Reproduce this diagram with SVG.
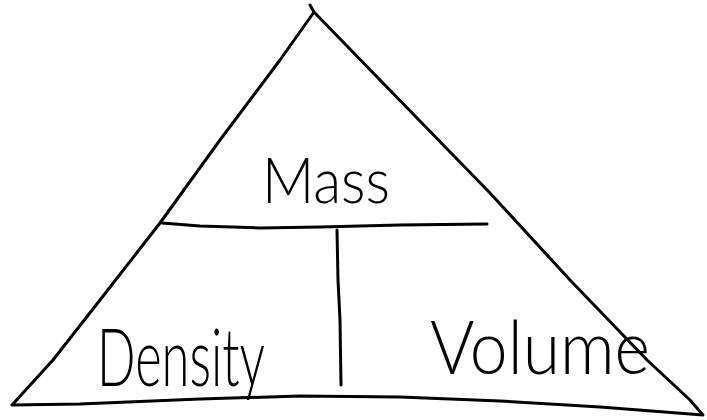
<svg xmlns="http://www.w3.org/2000/svg" width="707" height="420" viewBox="0 0 707 420">
<style>
.ln{fill:none;stroke:#000;stroke-width:3;stroke-linecap:round;stroke-linejoin:round}
.t{font-family:Lato,"Liberation Sans",Arial,sans-serif;fill:#000;font-weight:300}
</style>
<rect width="707" height="420" fill="#fff"/>
<g id="connectors">
<path class="ln" d="M310,5 L314,12 L280,60 L220,140 L160,223 L100,300 L53,360 L12,405 L80,404 L200,399 L300,396 L400,397 L500,401 L600,407 L703,415 L690,400 L647,360 L570,280 L490,193 L380,80 L314,12"/>
<path class="ln" d="M162,223 L200,226 L260,228 L320,227 L400,225 L487,224"/>
<path class="ln" d="M337,230 L338,280 L340,320 L341,385"/>
</g>
<g id="mass"><text class="t" x="262" y="203" font-size="64" textLength="128" lengthAdjust="spacingAndGlyphs">Mass</text></g>
<g id="density"><text class="t" x="97" y="386" font-size="80" textLength="168" lengthAdjust="spacingAndGlyphs">Density</text></g>
<g id="volume"><text class="t" x="430" y="374" font-size="74" textLength="220" lengthAdjust="spacingAndGlyphs">Volume</text></g>
</svg>
